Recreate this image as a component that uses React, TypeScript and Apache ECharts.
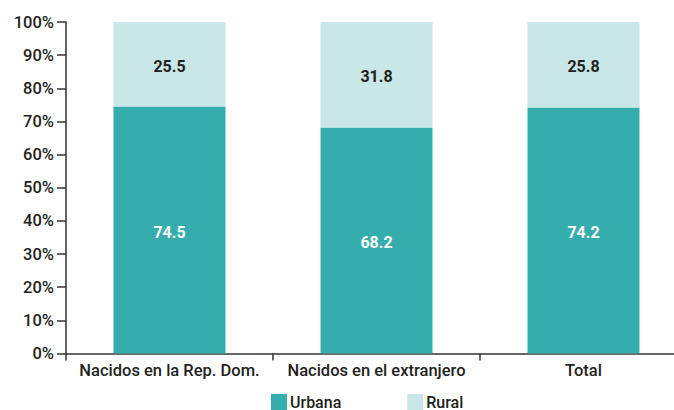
import React, { useEffect, useRef } from "react";
import * as echarts from "echarts";

const categories = ["Nacidos en la Rep. Dom.", "Nacidos en el extranjero", "Total"];
const urbana = [74.5, 68.2, 74.2];
const rural = [25.5, 31.8, 25.8];
const yTicks = [0, 10, 20, 30, 40, 50, 60, 70, 80, 90, 100];

export default function App() {
  const ref = useRef<HTMLDivElement>(null);
  useEffect(() => {
    if (!ref.current) return;
    const chart = echarts.init(ref.current, null, { renderer: "svg" });
    const font = "Roboto, 'DejaVu Sans', sans-serif";
    chart.setOption({
      animation: false,
      textStyle: { fontFamily: font },
      grid: { left: 66, right: 0, top: 22, bottom: 56.5, containLabel: false },
      legend: {
        top: 389,
        left: 266,
        itemWidth: 16,
        itemHeight: 16,
        itemGap: 66,
        icon: "rect",
        textStyle: { fontSize: 16, color: "#231f20", fontFamily: font, fontWeight: 500, padding: [0, 0, 0, -2] },
        data: ["Urbana", "Rural"],
      },
      xAxis: {
        type: "category",
        data: categories,
        axisLine: { lineStyle: { color: "#333", width: 1.5 } },
        axisTick: { show: true, length: 7, lineStyle: { color: "#333", width: 1.5 } },
        axisLabel: { interval: 0, fontSize: 16.5, fontWeight: 500, color: "#231f20", margin: 8, fontFamily: font },
      },
      yAxis: {
        type: "value",
        min: yTicks[0],
        max: yTicks[yTicks.length - 1],
        interval: 10,
        splitLine: { show: false },
        axisLine: { show: true, lineStyle: { color: "#333", width: 1.5 } },
        axisTick: { show: true, length: 9, lineStyle: { color: "#333", width: 1.5 } },
        axisLabel: { fontSize: 16.5, fontWeight: 500, color: "#231f20", margin: 12, formatter: "{value}%", fontFamily: font },
      },
      series: [
        {
          name: "Urbana",
          type: "bar",
          stack: "a",
          data: urbana,
          barWidth: 112,
          itemStyle: { color: "#36adad" },
          label: { show: true, position: "inside", offset: [0, 2], color: "#fff", fontSize: 16, fontWeight: "bold", fontFamily: font, formatter: (p: any) => p.value.toFixed(1) },
        },
        {
          name: "Rural",
          type: "bar",
          stack: "a",
          data: rural,
          barWidth: 112,
          itemStyle: { color: "#c9e7e6" },
          label: { show: true, position: "inside", offset: [0, 2], color: "#231f20", fontSize: 16, fontWeight: "bold", fontFamily: font, formatter: (p: any) => p.value.toFixed(1) },
        },
      ],
    });
    return () => chart.dispose();
  }, []);
  return (
    <div style={{ width: 674, height: 410, position: "absolute", left: 0, top: 0, overflow: "hidden" }}>
      <div ref={ref} style={{ width: 687, height: 410 }} />
    </div>
  );
}
